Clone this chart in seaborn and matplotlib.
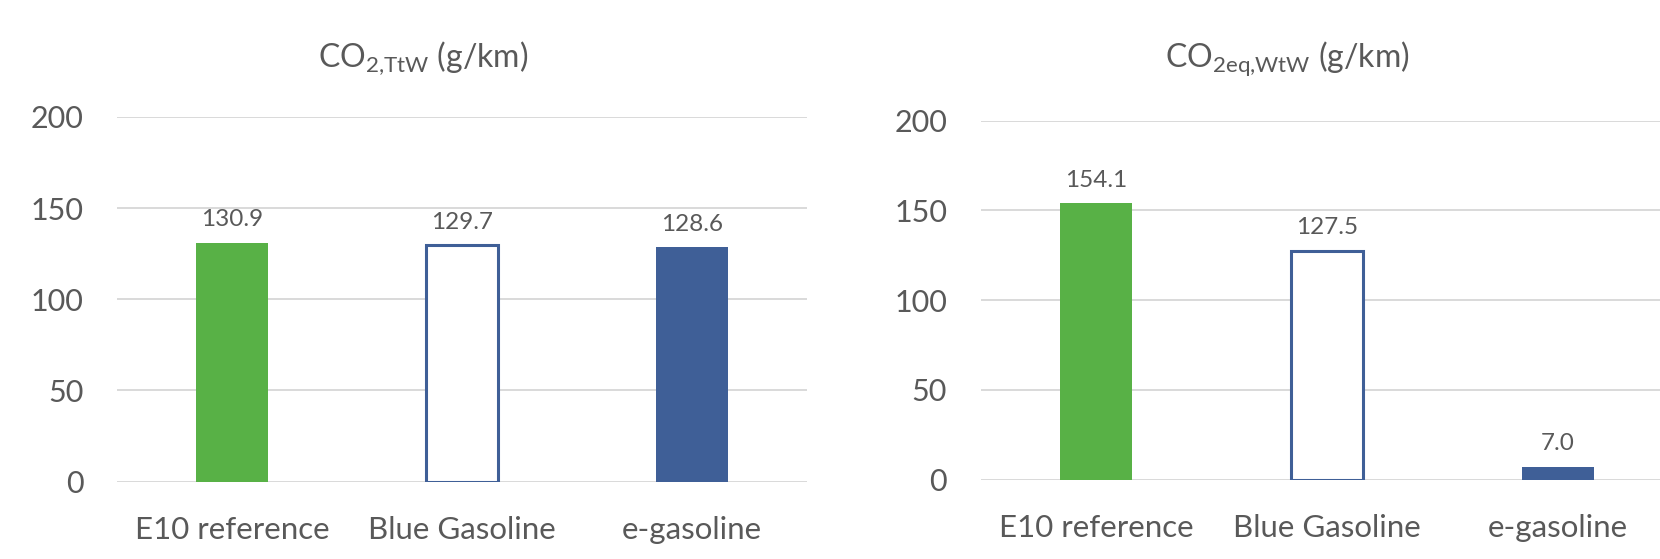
import matplotlib
matplotlib.use("Agg")
import matplotlib.pyplot as plt
import seaborn as sns
import pandas as pd

# ---- data ----
categories = ["E10 reference", "Blue Gasoline", "e-gasoline"]
ttw_values = [130.9, 129.7, 128.6]
wtw_values = [154.1, 127.5, 7.0]
y_ticks = [0, 50, 100, 150, 200]
titles = ["CO$_{2{,}TtW}$ (g/km)", "CO$_{2eq{,}WtW}$ (g/km)"]

GREEN = "#58B146"
BLUE = "#3F5F97"
TEXT = "#595959"
GRID = "#D9D9D9"

sns.set_theme(style="white")
plt.rcParams["font.family"] = ["Lato", "DejaVu Sans"]
plt.rcParams["mathtext.default"] = "regular"

fig = plt.figure(figsize=(16.6, 5.59), dpi=100)
W, H = 1660, 559

# axes rectangles in pixels: (left, top of 200, right, bottom of 0)
rects = [(117, 117, 807, 481.5), (980.5, 120.7, 1673.5, 479.5)]
title_x = [423, 1287]
title_base = 67

palette = {categories[0]: GREEN, categories[1]: "white", categories[2]: BLUE}

for i, (vals, (l, t, r, b)) in enumerate(zip([ttw_values, wtw_values], rects)):
    ax = fig.add_axes([l / W, 1 - b / H, (r - l) / W, (b - t) / H])
    df = pd.DataFrame({"cat": categories, "val": vals})
    sns.barplot(data=df, x="cat", y="val", hue="cat", palette=palette,
                width=0.31, legend=False, ax=ax, saturation=1)
    ax.set_ylim(0, 200)
    ax.set_xlim(-0.5, 2.5)
    ax.set_yticks(y_ticks)
    ax.set_yticklabels([str(v) for v in y_ticks])
    ax.yaxis.grid(True, color=GRID, linewidth=1.4)
    ax.set_axisbelow(True)
    for s in ax.spines.values():
        s.set_visible(False)
    ax.tick_params(axis="both", length=0, colors=TEXT)
    ax.tick_params(axis="y", pad=24, labelsize=22)
    ax.tick_params(axis="x", pad=25, labelsize=22.5)
    ax.set_xlabel("")
    ax.set_ylabel("")
    # style the outlined bar
    for j, p in enumerate(ax.patches):
        if j == 1:
            p.set_facecolor("white")
            p.set_edgecolor(BLUE)
            p.set_linewidth(2.2)
        else:
            p.set_edgecolor("none")
    for c in ax.containers:
        ax.bar_label(c, fmt="%.1f", padding=9, fontsize=17.5, color=TEXT)
    fig.text(title_x[i] / W, 1 - title_base / H, titles[i], ha="center",
             va="baseline", fontsize=23, color=TEXT)

fig.savefig("out.png", dpi=100, facecolor="white")
